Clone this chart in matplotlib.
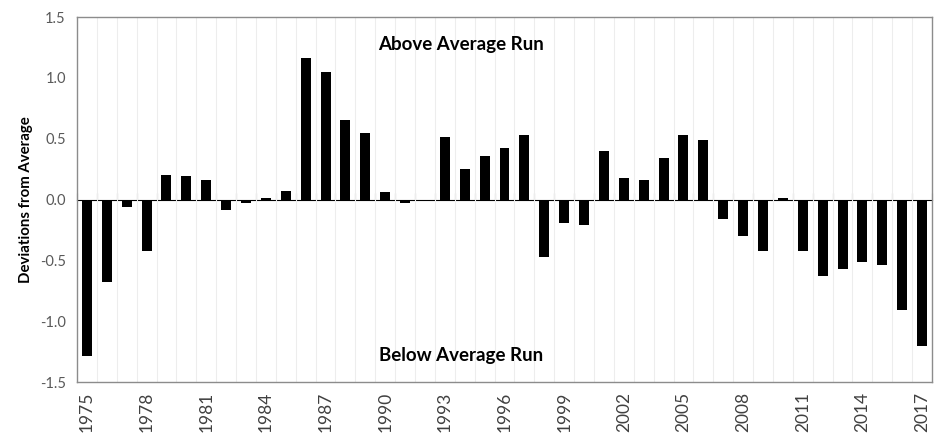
import matplotlib
matplotlib.use("Agg")
import matplotlib.pyplot as plt
import numpy as np

plt.rcParams['font.family'] = ['Lato', 'DejaVu Sans']

# deviations from average run
years = list(range(1975, 2018))
deviations = [-1.29, -0.68, -0.06, -0.42, 0.20, 0.19, 0.16, -0.09, -0.03, 0.01,
              0.07, 1.16, 1.05, 0.65, 0.55, 0.06, -0.03, -0.01, 0.51, 0.25,
              0.36, 0.42, 0.53, -0.47, -0.19, -0.21, 0.40, 0.18, 0.16, 0.34,
              0.53, 0.49, -0.16, -0.30, -0.42, 0.01, -0.42, -0.63, -0.57, -0.51,
              -0.54, -0.91, -1.20]
label_years = years[::3]
y_ticks = [-1.5, -1.0, -0.5, 0.0, 0.5, 1.0, 1.5]

fig = plt.figure(figsize=(9.34, 4.34), dpi=100)
ax = fig.add_axes([0.0824, 0.1198, 0.9155, 0.841])

x = np.arange(len(years))
ax.bar(x, deviations, width=0.5, color='black', zorder=3)

ax.set_xlim(-0.5, len(years) - 0.5)
ax.set_ylim(-1.5, 1.5)

# faint vertical grid at category boundaries
bounds = np.arange(len(years) + 1) - 0.5
for b in bounds[1:-1]:
    ax.axvline(b, color='#ededed', lw=0.8, zorder=1)

ax.set_xticks([years.index(y) for y in label_years])
ax.set_xticklabels([str(y) for y in label_years], rotation=90, fontsize=12.5, color='#404040')
ax.tick_params(axis='x', length=0, pad=7)

ax.set_yticks(y_ticks)
ax.set_yticklabels([f"{v:.1f}" for v in y_ticks], fontsize=10.5, color='#595959')
ax.tick_params(axis='y', length=0, pad=8)
ax.set_ylabel("Deviations from Average", fontsize=10.8, fontweight='bold', color='black', labelpad=5)

for s in ax.spines.values():
    s.set_color('#8c8c8c')
    s.set_linewidth(1.0)

# zero axis with tick marks at category boundaries
zero_ax = ax.secondary_xaxis(0.5)
zero_ax.set_xticks(bounds)
zero_ax.set_xticklabels([])
zero_ax.tick_params(axis='x', length=5, width=0.8, color='#8c8c8c', direction='out')
zero_ax.spines['bottom'].set_color('#8c8c8c')

mid = (len(years) - 1) / 2 - 2.2
ax.text(mid, 1.27, "Above Average Run", ha='center', va='center', fontsize=13.5, fontweight='bold')
ax.text(mid, -1.28, "Below Average Run", ha='center', va='center', fontsize=13.5, fontweight='bold')

fig.savefig("out.png", dpi=100)
